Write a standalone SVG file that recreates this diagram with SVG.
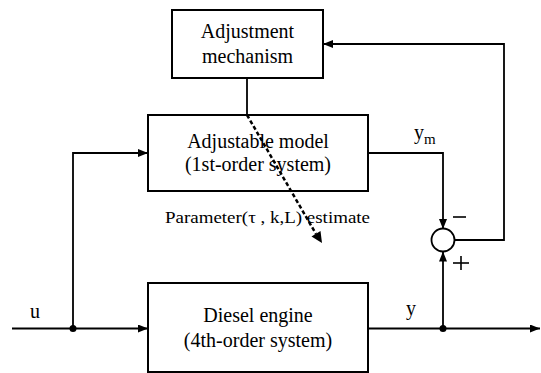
<svg xmlns="http://www.w3.org/2000/svg" width="541" height="373" viewBox="0 0 541 373">
<defs>
<marker id="ah" viewBox="0 0 10 8" refX="10" refY="4" markerWidth="10" markerHeight="8" markerUnits="userSpaceOnUse" orient="auto">
<path d="M0,0 L10,4 L0,8 Z" fill="#000"/>
</marker>
</defs>
<style>
.box{fill:#fff;stroke:#000;stroke-width:2}
.ln{fill:none;stroke:#000;stroke-width:1.8}
.dash{fill:none;stroke:#000;stroke-width:2.5;stroke-dasharray:4 2.5}
text{font-family:"Liberation Serif","Times New Roman",serif;font-size:20px;fill:#000}
.c{text-anchor:middle}
</style>
<rect width="541" height="373" fill="#fff"/>
<g id="connectors">
<line class="ln" x1="12" y1="328.5" x2="148" y2="328.5" marker-end="url(#ah)"/>
<polyline class="ln" points="73,328.5 73,153 148,153" marker-end="url(#ah)"/>
<line class="ln" x1="247" y1="78" x2="247" y2="115"/>
<polyline class="ln" points="368,153 443,153 443,229" marker-end="url(#ah)"/>
<line class="ln" x1="368" y1="328.5" x2="540" y2="328.5" marker-end="url(#ah)"/>
<line class="ln" x1="443" y1="328.5" x2="443" y2="251.5" marker-end="url(#ah)"/>
<polyline class="ln" points="454.5,240 504,240 504,44 323,44" marker-end="url(#ah)"/>
<line class="dash" x1="247" y1="115" x2="316" y2="234"/>
<path d="M311.5,236.5 L322,243 L320.5,231 Z" fill="#000"/>
<circle cx="73" cy="328.5" r="3.5" fill="#000"/>
<circle cx="443" cy="328.5" r="3.5" fill="#000"/>
</g>
<g id="adjustment">
<rect class="box" x="172" y="10" width="151" height="68"/>
<text class="c" x="247.5" y="38">Adjustment</text>
<text class="c" x="247.5" y="63">mechanism</text>
</g>
<g id="model">
<rect class="box" x="148" y="115" width="220" height="76" fill-opacity="0"/>
<text class="c" x="258" y="148">Adjustable model</text>
<text class="c" x="258" y="171">(1st-order system)</text>
</g>
<g id="diesel">
<rect class="box" x="148" y="283" width="220" height="89"/>
<text class="c" x="258" y="322">Diesel engine</text>
<text class="c" x="258" y="347">(4th-order system)</text>
</g>
<g id="sum">
<circle cx="443" cy="240" r="11.5" fill="#fff" stroke="#000" stroke-width="1.8"/>
<line x1="453" y1="217" x2="466" y2="217" stroke="#000" stroke-width="1.6"/>
<line x1="453" y1="263" x2="469" y2="263" stroke="#000" stroke-width="1.6"/>
<line x1="461" y1="256" x2="461" y2="270" stroke="#000" stroke-width="1.6"/>
</g>
<g id="labels">
<text x="165" y="223" textLength="205" lengthAdjust="spacingAndGlyphs" style="font-size:17px">Parameter(τ , k,L) estimate</text>
<text x="414" y="139">y</text>
<text x="424" y="144" style="font-size:15px">m</text>
<text x="406" y="315">y</text>
<text x="30" y="318">u</text>
</g>
</svg>
